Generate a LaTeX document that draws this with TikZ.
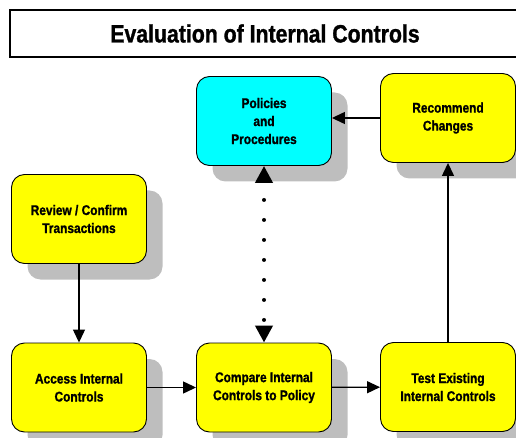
\documentclass[tikz,border=0pt]{standalone}
\usepackage{fontspec}
\setmainfont{Liberation Sans}[FakeStretch=0.85, BoldFeatures={FakeBold=1.2}]
\usetikzlibrary{arrows.meta,positioning,shadows}
\definecolor{boxyellow}{HTML}{FFFF00}
\definecolor{boxcyan}{HTML}{00FFFF}
\definecolor{shadowgray}{HTML}{BEBEBE}

\begin{document}
\begin{tikzpicture}[x=1pt, y=-1pt, ->, >={Triangle[length=13pt,width=12pt]},
     line width=1.3pt,
     ctlbox/.style={draw, line width=0.9pt, rounded corners=13pt, fill=boxyellow,
       minimum width=135pt, minimum height=89pt, align=center,
       font=\bfseries\fontsize{14}{18}\selectfont,
       drop shadow={shadow xshift=16pt, shadow yshift=-16pt, fill=shadowgray, opacity=1}},
     dotline/.style={line width=4pt, line cap=round, dash pattern=on 0pt off 20pt,
       dash phase=2pt, >={Triangle[length=17pt,width=17pt]}}]
    \clip (0,0) rectangle (516,438);
    \node[draw, line width=1.5pt, minimum width=510pt, minimum height=47pt,
      font=\bfseries\fontsize{25}{27}\selectfont] (title) at (265,33.5) {Evaluation of Internal Controls};
    \node[ctlbox, fill=boxcyan] (pol) at (264,121) {Policies\\and\\Procedures};
    \node[ctlbox] (rec) at (448,118) {Recommend\\Changes};
    \node[ctlbox] (rev) at (79,219) {Review / Confirm\\Transactions};
    \node[ctlbox] (acc) at (79,387.5) {Access Internal\\Controls};
    \node[ctlbox] (cmp) at (264,387.5) {Compare Internal\\Controls to Policy};
    \node[ctlbox] (tst) at (448,387) {Test Existing\\Internal Controls};
    \path (rev) edge (acc);
    \path (acc) edge (cmp);
    \path (cmp) edge (tst);
    \path (tst) edge (rec);
    \draw (rec.west) -- (rec.west -| pol.east);
    \path (pol) edge[<->, dotline] (cmp);
\end{tikzpicture}
\end{document}
